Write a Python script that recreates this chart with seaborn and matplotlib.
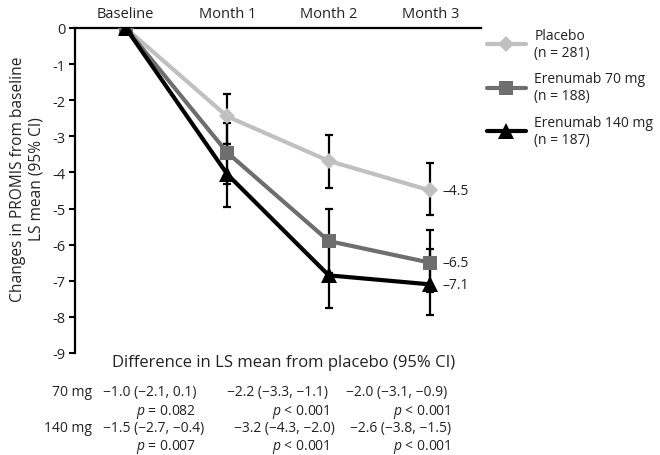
import numpy as np
import pandas as pd
import matplotlib
matplotlib.use("Agg")
import matplotlib.pyplot as plt
import seaborn as sns

sns.set_theme(style="white")
plt.rcParams.update({
    "font.family": ["Open Sans", "DejaVu Sans"],
    "mathtext.fontset": "custom",
    "mathtext.rm": "Open Sans",
    "mathtext.it": "Open Sans:italic",
})

# data
timepoints = ["Baseline", "Month 1", "Month 2", "Month 3"]
groups = ["Placebo\n(n = 281)", "Erenumab 70 mg\n(n = 188)", "Erenumab 140 mg\n(n = 187)"]
placebo_mean = [0, -2.45, -3.68, -4.5]
mg70_mean = [0, -3.45, -5.9, -6.5]
mg140_mean = [0, -4.05, -6.85, -7.1]
placebo_lo = [0, -3.2, -4.42, -5.19]
placebo_hi = [0, -1.82, -2.97, -3.73]
mg70_lo = [0, -4.32, -6.78, -7.3]
mg70_hi = [0, -2.63, -5.02, -5.59]
mg140_lo = [0, -4.95, -7.74, -7.94]
mg140_hi = [0, -3.22, -5.96, -6.12]
end_labels = ["\u20134.5", "\u20136.5", "\u20137.1"]

diff_rows = ["70 mg", "140 mg"]
diff_70 = ["\u22121.0 (\u22122.1, 0.1)", "\u22122.2 (\u22123.3, \u22121.1)", "\u22122.0 (\u22123.1, \u22120.9)"]
p_70 = ["$p$ = 0.082", "$p$ < 0.001", "$p$ < 0.001"]
diff_140 = ["\u22121.5 (\u22122.7, \u22120.4)", "\u22123.2 (\u22124.3, \u22122.0)", "\u22122.6 (\u22123.8, \u22121.5)"]
p_140 = ["$p$ = 0.007", "$p$ < 0.001", "$p$ < 0.001"]

COLORS = {groups[0]: "#c0c0c0", groups[1]: "#6e6e6e", groups[2]: "#000000"}
MARKERS = {groups[0]: "D", groups[1]: "s", groups[2]: "^"}
MSIZE = {groups[0]: 8, groups[1]: 9.5, groups[2]: 11}
TXT = "#222222"

means = [placebo_mean, mg70_mean, mg140_mean]
los = [placebo_lo, mg70_lo, mg140_lo]
his = [placebo_hi, mg70_hi, mg140_hi]

df = pd.DataFrame({
    "group": np.repeat(groups, len(timepoints)),
    "pos": np.tile(np.arange(len(timepoints)), len(groups)),
    "mean": np.concatenate(means),
    "lo": np.concatenate(los),
    "hi": np.concatenate(his),
})

W, H = 660, 456
fig = plt.figure(figsize=(W / 100, H / 100), dpi=100)
ax = fig.add_axes([75 / W, 1 - 354 / H, (481 - 75) / W, (354 - 29) / H])

# error bars (behind the lines)
ci = df[df["pos"] > 0]
ax.errorbar(ci["pos"], ci["mean"], yerr=[ci["mean"] - ci["lo"], ci["hi"] - ci["mean"]],
            fmt="none", ecolor="black", elinewidth=1.6, capsize=2.7, capthick=1.6, zorder=2)

for g in groups:
    sub = df[df["group"] == g]
    sns.lineplot(data=sub, x="pos", y="mean", color=COLORS[g], marker=MARKERS[g],
                 markersize=MSIZE[g], markeredgewidth=0, linewidth=3, label=g,
                 ax=ax, zorder=3)

for g, lab in zip(groups, end_labels):
    sub = df[df["group"] == g]
    ax.annotate(lab, (sub["pos"].iloc[-1], sub["mean"].iloc[-1]), xytext=(9, 0),
                textcoords="offset points", ha="left", va="center", fontsize=10, color=TXT)

ax.set_xlim(-0.5, 3.5)
ax.set_ylim(-9, 0)
ax.set_xticks(range(len(timepoints)))
ax.set_xticklabels(timepoints)
ax.xaxis.tick_top()
ax.tick_params(axis="x", length=0, pad=5, labelsize=10.5, colors=TXT)
ax.set_yticks(range(-9, 1))
ax.set_yticklabels([str(v) if v == 0 else "-%d" % -v for v in range(-9, 1)])
ax.tick_params(axis="y", left=True, length=4, width=1.5, pad=3, labelsize=10.5,
               colors="black", labelcolor=TXT)
ax.set_xlabel("")
ax.set_ylabel("Changes in PROMIS from baseline\nLS mean (95% CI)", fontsize=11.2, color=TXT)
ax.yaxis.set_label_coords(-0.075, 0.538)
for s in ["right", "bottom"]:
    ax.spines[s].set_visible(False)
for s in ["left", "top"]:
    ax.spines[s].set_color("black")
    ax.spines[s].set_linewidth(1.6)

leg = ax.legend(loc="upper left", bbox_to_anchor=(487 / W, 1 - 29 / H),
                bbox_transform=fig.transFigure, frameon=False, fontsize=10,
                handlelength=2.8, handletextpad=0.6, labelspacing=0.85,
                borderpad=0, borderaxespad=0)
for t in leg.get_texts():
    t.set_color(TXT)
    t.set_linespacing(1.15)

# table below the plot
fig.text(284 / W, 1 - 363 / H, "Difference in LS mean from placebo (95% CI)",
         ha="center", va="center", fontsize=12, color=TXT)
row_y = [393, 429]
p_y = [412, 447]
est_x = [[103, 227, 346], [103, 234, 350]]
p_x = [196, 330, 451]
for i, (name, ests, ps) in enumerate(zip(diff_rows, [diff_70, diff_140], [p_70, p_140])):
    fig.text(92 / W, 1 - row_y[i] / H, name, ha="right", va="center", fontsize=10, color=TXT)
    for j in range(3):
        fig.text(est_x[i][j] / W, 1 - row_y[i] / H, ests[j], ha="left", va="center",
                 fontsize=10, color=TXT)
        fig.text(p_x[j] / W, 1 - p_y[i] / H, ps[j], ha="right", va="center",
                 fontsize=10, color=TXT)

fig.savefig("out.png", dpi=100)
